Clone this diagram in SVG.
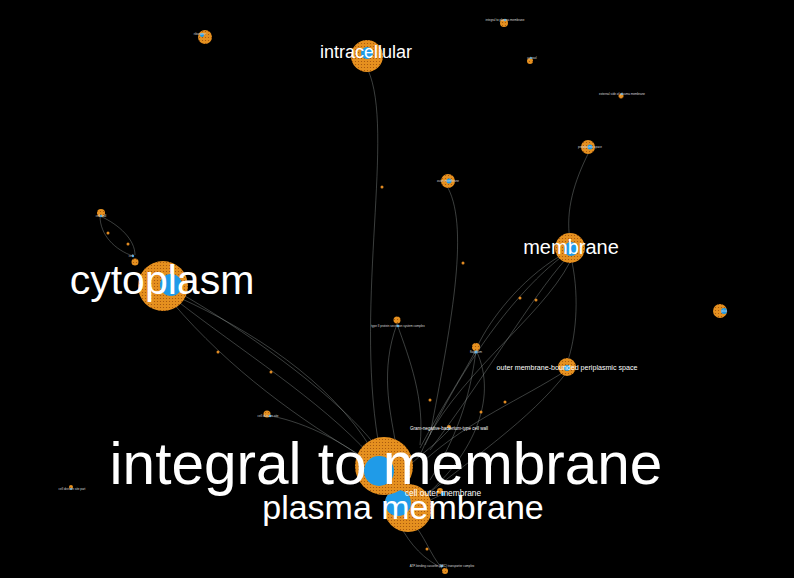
<svg xmlns="http://www.w3.org/2000/svg" width="794" height="578" viewBox="0 0 794 578">
<defs>
<pattern id="dots" width="3" height="3" patternUnits="userSpaceOnUse">
<rect width="3" height="3" fill="#e5901f"/>
<circle cx="1.5" cy="1.5" r="0.6" fill="#a0520c"/>
</pattern>
<style>
.o{fill:url(#dots)}
.b{fill:#1f9be8}
.e{fill:none;stroke:#9aa4a0;stroke-width:0.7;stroke-opacity:0.55}
.d{fill:#e08a22}
text{fill:#ffffff;font-family:"Liberation Sans",Arial,sans-serif;text-anchor:middle}
.t{font-size:3px;fill:#d8d8d8}
</style>
</defs>
<rect width="794" height="578" fill="#000"/>
<g id="edges">
<path class="e" d="M368,70 C395,130 355,300 378,440"/>
<path class="e" d="M448,188 C470,230 450,330 430,435"/>
<path class="e" d="M588,154 C575,180 565,210 570,240"/>
<path class="e" d="M560,258 C520,290 470,350 425,445"/>
<path class="e" d="M565,260 C530,300 490,370 430,450"/>
<path class="e" d="M570,262 C540,320 450,380 420,455"/>
<path class="e" d="M560,256 C520,280 490,320 478,345"/>
<path class="e" d="M572,262 C580,300 575,340 568,360"/>
<path class="e" d="M180,298 C250,330 330,380 372,450"/>
<path class="e" d="M176,300 C240,350 320,400 370,455"/>
<path class="e" d="M172,302 C230,370 300,420 368,460"/>
<path class="e" d="M185,296 C260,340 340,400 375,445"/>
<path class="e" d="M100,216 C120,225 135,240 135,255"/>
<path class="e" d="M100,216 C100,235 115,250 133,256"/>
<path class="e" d="M397,324 C410,360 425,400 420,445"/>
<path class="e" d="M397,324 C380,370 390,410 395,440"/>
<path class="e" d="M476,350 C460,380 440,410 420,448"/>
<path class="e" d="M476,350 C470,400 455,440 430,480"/>
<path class="e" d="M476,350 C500,400 470,460 420,500"/>
<path class="e" d="M567,370 C520,400 470,420 425,460"/>
<path class="e" d="M567,372 C530,420 470,460 420,500"/>
<path class="e" d="M265,415 C300,420 340,440 365,460"/>
<path class="e" d="M410,520 C425,535 430,555 442,568"/>
<path class="e" d="M400,525 C410,545 425,560 442,568"/>
<path class="e" d="M449,430 C435,445 420,455 410,465"/>
<path class="e" d="M443,494 C430,500 420,505 410,510"/>
<circle class="d" cx="382" cy="187" r="1.5"/>
<circle class="d" cx="463" cy="263" r="1.5"/>
<circle class="d" cx="218" cy="352" r="1.5"/>
<circle class="d" cx="271" cy="372" r="1.5"/>
<circle class="d" cx="520" cy="298" r="1.5"/>
<circle class="d" cx="536" cy="300" r="1.5"/>
<circle class="d" cx="108" cy="233" r="1.5"/>
<circle class="d" cx="128" cy="244" r="1.5"/>
<circle class="d" cx="427" cy="549" r="1.5"/>
<circle class="d" cx="481" cy="412" r="1.5"/>
<circle class="d" cx="505" cy="402" r="1.5"/>
<circle class="d" cx="430" cy="400" r="1.5"/>
</g>
<g id="n-ribosome"><circle class="o" cx="205" cy="37" r="7"/><circle class="b" cx="202" cy="35" r="2"/><text class="t" x="200" y="35">ribosome</text></g>
<g id="n-top1"><circle class="o" cx="504" cy="23" r="4"/><circle class="b" cx="505" cy="20" r="1.2"/><text class="t" x="505" y="21">integral to plasma membrane</text></g>
<g id="n-top2"><circle class="o" cx="530" cy="61" r="3"/><circle class="b" cx="531" cy="58" r="1"/><text class="t" x="532" y="59">cytosol</text></g>
<g id="n-top3"><circle class="o" cx="621" cy="96" r="2.5"/><circle class="b" cx="622" cy="94" r="1"/><text class="t" x="622" y="95">external side of plasma membrane</text></g>
<g id="n-intracellular"><circle class="o" cx="367" cy="56" r="16"/><circle class="b" cx="367" cy="53" r="6"/><text x="366" y="58" font-size="18">intracellular</text></g>
<g id="n-outer"><circle class="o" cx="448" cy="181" r="7"/><circle class="b" cx="449" cy="181" r="2.5"/><text class="t" x="448" y="182">outer membrane</text></g>
<g id="n-peri"><circle class="o" cx="588" cy="147" r="7"/><circle class="b" cx="590" cy="147" r="2.5"/><text class="t" x="590" y="148">periplasmic space</text></g>
<g id="n-membrane"><circle class="o" cx="570" cy="248" r="15"/><circle class="b" cx="571" cy="249" r="7"/><text x="571" y="254" font-size="20">membrane</text></g>
<g id="n-cytoplasm"><circle class="o" cx="163" cy="286" r="25"/><circle class="b" cx="171" cy="285" r="11"/><text x="162" y="294" font-size="41">cytoplasm</text></g>
<g id="n-small1"><circle class="o" cx="101" cy="213" r="4"/><circle class="b" cx="101" cy="216" r="1.2"/><text class="t" x="101" y="217">cell wall</text></g>
<g id="n-small2"><circle class="o" cx="135" cy="262" r="3.5"/><circle class="b" cx="133" cy="256" r="1.2"/><text class="t" x="131" y="257">cell</text></g>
<g id="n-pilus"><circle class="o" cx="720" cy="311" r="7"/><circle class="b" cx="724" cy="311" r="3"/><text class="t" x="724" y="312">pilus</text></g>
<g id="n-type2"><circle class="o" cx="397" cy="320" r="3.5"/><circle class="b" cx="398" cy="326" r="1.2"/><text class="t" x="398" y="327">type II protein secretion system complex</text></g>
<g id="n-flagellum"><circle class="o" cx="476" cy="347" r="4"/><circle class="b" cx="476" cy="352" r="1.5"/><text class="t" x="476" y="353" font-size="4">flagellum</text></g>
<g id="n-ombps"><circle class="o" cx="567" cy="367" r="9"/><circle class="b" cx="567" cy="368" r="3"/><text x="567" y="370" font-size="7.1">outer membrane-bounded periplasmic space</text></g>
<g id="n-celldiv"><circle class="o" cx="267" cy="414" r="3.5"/><circle class="b" cx="270" cy="416" r="1.2"/><text class="t" x="268" y="417">cell division site</text></g>
<g id="n-gram"><circle class="o" cx="449" cy="427" r="2"/><circle class="b" cx="449" cy="429" r="1"/><text x="449" y="430" font-size="4.5" fill="#d8d8d8">Gram-negative-bacterium-type cell wall</text></g>
<g id="n-pm"><circle class="o" cx="408" cy="508" r="24"/><circle class="b" cx="398" cy="503" r="13"/><text x="403" y="519" font-size="34">plasma membrane</text></g>
<g id="n-itm"><circle class="o" cx="384" cy="466" r="29"/><circle class="b" cx="379" cy="471" r="15"/><text x="386" y="484" font-size="58.5">integral to membrane</text></g>
<g id="n-com"><circle class="o" cx="440" cy="491" r="3"/><circle class="b" cx="443" cy="494" r="2"/><text x="443" y="496" font-size="8.4">cell outer membrane</text></g>
<g id="n-abc"><circle class="o" cx="445" cy="571" r="3"/><circle class="b" cx="442" cy="566" r="1.2"/><text class="t" x="442" y="567">ATP-binding cassette (ABC) transporter complex</text></g>
<g id="n-left"><circle class="o" cx="71" cy="487" r="2"/><circle class="b" cx="71" cy="489" r="1"/><text class="t" x="72" y="490">cell division site part</text></g>
</svg>
